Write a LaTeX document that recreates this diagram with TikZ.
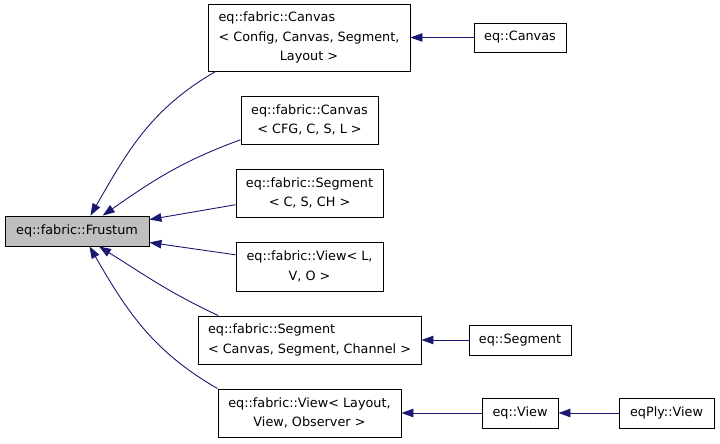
\documentclass[tikz,border=0pt]{standalone}
\usepackage{fontspec}
\setmainfont{DejaVu Sans}
\usepackage{tikz}
\usetikzlibrary{arrows.meta}
\definecolor{EdgeBlue}{RGB}{25,25,112}
\definecolor{BaseGray}{RGB}{191,191,191}

\begin{document}
\begin{tikzpicture}[
    x=1pt,
    y=-1pt,
    font=\fontsize{12.8}{19.5}\selectfont,
    box/.style={
        draw=black,
        line width=0.9pt,
        align=center,
        inner sep=0pt,
        fill=white
    },
    arrow/.style={-{Triangle[length=12pt,width=8.5pt]}, line width=0.9pt, draw=EdgeBlue}
]
\useasboundingbox (0,0) rectangle (720,444);

\node[box, fill=BaseGray, minimum width=144pt, minimum height=30pt] (frustum) at (77,231) {eq::fabric::Frustum};

\node[box, minimum width=202pt, minimum height=67pt] (canvasCfg) at (309,37.5)
{\rlap{eq::fabric::Canvas}\hphantom{< Config, Canvas, Segment,}\\< Config, Canvas, Segment,\\Layout >};
\node[box, minimum width=137pt, minimum height=48pt] (canvasShort) at (309.5,120)
{eq::fabric::Canvas\\< CFG, C, S, L >};
\node[box, minimum width=147pt, minimum height=48pt] (segmentShort) at (309.5,193)
{eq::fabric::Segment\\< C, S, CH >};
\node[box, minimum width=147pt, minimum height=49pt] (viewShort) at (309.5,266.5)
{eq::fabric::View< L,\\V, O >};
\node[box, minimum width=223pt, minimum height=48pt] (segmentFull) at (309.5,340)
{\rlap{eq::fabric::Segment}\hphantom{< Canvas, Segment, Channel >}\\< Canvas, Segment, Channel >};
\node[box, minimum width=183pt, minimum height=48pt] (viewFull) at (309.5,413)
{eq::fabric::View< Layout,\\View, Observer >};

\node[box, minimum width=92pt, minimum height=29pt] (eqCanvas) at (520,37.5) {eq::Canvas};
\node[box, minimum width=102pt, minimum height=30pt] (eqSegment) at (520,340) {eq::Segment};
\node[box, minimum width=76pt, minimum height=30pt] (eqView) at (520,413) {eq::View};
\node[box, minimum width=95pt, minimum height=30pt] (plyView) at (666.5,413) {eqPly::View};

% templates onto the frustum
\draw[arrow] (canvasCfg.200) to[out=210, in=60] (frustum.49);
\draw[arrow] (canvasShort.196) to[out=200, in=35] (frustum.31);
\draw[arrow] (segmentShort.189) -- (frustum.9);
\draw[arrow] (viewShort.171) -- (frustum.-9);
\draw[arrow] (segmentFull.165) to[out=155, in=-32] (frustum.-35);
\draw[arrow] (viewFull.north west) to[out=150, in=-60] (frustum.-51);

% concrete classes
\draw[arrow] (eqCanvas) -- (canvasCfg);
\draw[arrow] (eqSegment) -- (segmentFull);
\draw[arrow] (eqView) -- (viewFull);
\draw[arrow] (plyView) -- (eqView);

\end{tikzpicture}
\end{document}
